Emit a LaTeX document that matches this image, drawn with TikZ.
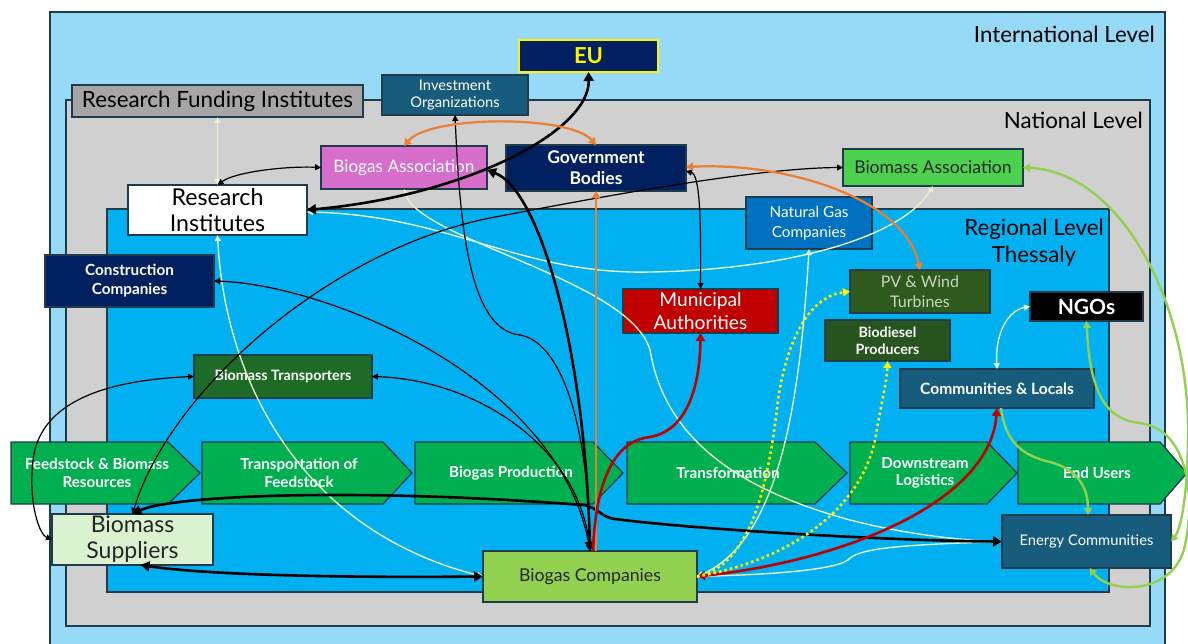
\documentclass[tikz,border=0pt]{standalone}
\usepackage{fontspec}
\setmainfont{Lato}
\usetikzlibrary{arrows.meta,calc}
\definecolor{intlc}{HTML}{97DAF7}
\definecolor{natlc}{HTML}{D0D0D0}
\definecolor{reglc}{HTML}{00B0F0}
\definecolor{edgec}{HTML}{1E3C4C}
\definecolor{navyc}{HTML}{002060}
\definecolor{tealc}{HTML}{175C7D}
\definecolor{bluec}{HTML}{0070C0}
\definecolor{orchidc}{HTML}{D86ECC}
\definecolor{bmac}{HTML}{4CD14F}
\definecolor{redc}{HTML}{C00000}
\definecolor{pvc}{HTML}{2E5A1E}
\definecolor{pvtext}{HTML}{C9D6C0}
\definecolor{bdpc}{HTML}{285420}
\definecolor{btc}{HTML}{1D6B27}
\definecolor{chevc}{HTML}{00B050}
\definecolor{bsc}{HTML}{DAF2D0}
\definecolor{bcc}{HTML}{92D050}
\definecolor{greyc}{HTML}{A6A6A6}
\definecolor{palec}{HTML}{E3F4CF}
\definecolor{orangec}{HTML}{ED7D31}
\definecolor{greenln}{HTML}{92D050}
\newcommand\myfs[2]{\fontsize{#1}{#2}\selectfont}
\begin{document}
\begin{tikzpicture}[x=1pt,y=-1pt,
  box/.style={draw=edgec, line width=1.3pt, inner sep=1pt, outer sep=0pt, align=center, text=white},
  chev/.style={draw=edgec, line width=1.3pt, fill=chevc},
  chevtxt/.style={text=white, font=\bfseries\myfs{15.2}{17.5}, align=center, inner sep=0pt},
  lvl/.style={text=black, font=\myfs{22.3}{27}, inner sep=0pt, align=center},
  ln/.style={line width=1.2pt, draw=black, >={Triangle[width=6pt,length=6pt]}},
  lnthick/.style={line width=2.6pt, draw=black, >={Triangle[width=10pt,length=9pt]}},
  lnpale/.style={line width=1.4pt, draw=palec, >={Triangle[width=6pt,length=6pt]}},
  lnorange/.style={line width=2.2pt, draw=orangec, >={Triangle[width=8pt,length=7pt]}},
  lnred/.style={line width=2.6pt, draw=redc, >={Triangle[width=9pt,length=8pt]}},
  lnyel/.style={line width=2.6pt, draw=yellow, dash pattern=on 2.6pt off 3pt, >={Triangle[width=8pt,length=7pt]}},
  lngreen/.style={line width=2.4pt, draw=greenln, >={Triangle[width=8pt,length=7pt]}}
]
\useasboundingbox (0,0) rectangle (1188,644);
% levels
\filldraw[fill=intlc, draw=edgec, line width=1.3pt] (50,12) rectangle (1165,660);
\filldraw[fill=natlc, draw=edgec, line width=1.3pt] (66,100) rectangle (1150,626);
\filldraw[fill=reglc, draw=edgec, line width=1.3pt] (107,209) rectangle (1109,592);
\node[lvl, anchor=east] (lint) at (1155,34) {International Level};
\node[lvl, anchor=east] (lnat) at (1143,120) {National Level};
\node[lvl] (lreg) at (1034,243) {Regional Level\\Thessaly};
% value chain
\draw[chev] (11,442) -- (168,442) -- (200,473) -- (168,504) -- (11,504) -- cycle;
\node[chevtxt] (c1) at (97,473) {Feedstock \& Biomass\\Resources};
\draw[chev] (202,442) -- (383,442) -- (412,473) -- (383,504) -- (202,504) -- cycle;
\node[chevtxt] (c2) at (299,473) {Transportation of\\Feedstock};
\draw[chev] (415,442) -- (593,442) -- (623,473) -- (593,504) -- (415,504) -- cycle;
\node[chevtxt] (c3) at (511,473) {Biogas Production};
\draw[chev] (627,442) -- (815,442) -- (847,473) -- (815,504) -- (627,504) -- cycle;
\node[chevtxt] (c4) at (728,473) {Transformation};
\draw[chev] (850,442) -- (987,442) -- (1017,473) -- (987,504) -- (850,504) -- cycle;
\node[chevtxt] (c5) at (925,473) {Downstream\\Logistics};
\draw[chev] (1018,442) -- (1160,442) -- (1187,473) -- (1160,504) -- (1018,504) -- cycle;
\node[chevtxt] (c6) at (1097,473) {End Users};
% actors
\node[box, fill=navyc, draw=yellow, line width=1.6pt, minimum width=139pt, minimum height=32pt, text=yellow, font=\bfseries\myfs{22}{26}] (eu) at (588.5,56) {EU};
\node[box, fill=tealc, minimum width=146pt, minimum height=40pt, font=\myfs{14.7}{17.5}] (io) at (455,95) {Investment\\Organizations};
\node[box, fill=greyc, minimum width=291pt, minimum height=32pt, text=black, font=\myfs{22.4}{26}] (rfi) at (217.5,101) {Research Funding Institutes};
\node[box, fill=orchidc, minimum width=166pt, minimum height=43pt, font=\myfs{17.2}{20}] (bga) at (404,167.5) {Biogas Association};
\node[box, fill=navyc, minimum width=180pt, minimum height=46pt, font=\bfseries\myfs{17.5}{21}] (gov) at (596,168) {Government\\Bodies};
\node[box, fill=bmac, minimum width=180pt, minimum height=37pt, text=black!85, font=\myfs{17.6}{20}] (bma) at (933,167.5) {Biomass Association};
\node[box, fill=white, minimum width=179pt, minimum height=50pt, text=black, font=\myfs{23.2}{26}] (ri) at (217.5,210) {Research\\Institutes};
\node[box, fill=bluec, minimum width=126pt, minimum height=52pt, font=\myfs{15.3}{20}] (ngc) at (809,223) {Natural Gas\\Companies};
\node[box, fill=navyc, minimum width=169pt, minimum height=52pt, font=\bfseries\myfs{15.3}{19}] (cc) at (129.5,281) {Construction\\Companies};
\node[box, fill=redc, minimum width=155pt, minimum height=44pt, font=\myfs{19.2}{23}] (ma) at (700.5,311) {Municipal\\Authorities};
\node[box, fill=pvc, minimum width=140pt, minimum height=43pt, text=pvtext, font=\myfs{16}{20}] (pv) at (920,291.5) {PV \& Wind\\Turbines};
\node[box, fill=black, minimum width=113pt, minimum height=29pt, font=\bfseries\myfs{21}{24}] (ngo) at (1086.5,306.5) {NGOs};
\node[box, fill=bdpc, minimum width=125pt, minimum height=41pt, font=\bfseries\myfs{14.2}{17}] (bdp) at (887.5,340.5) {Biodiesel\\Producers};
\node[box, fill=btc, minimum width=178pt, minimum height=43pt, font=\bfseries\myfs{14.3}{17}] (bt) at (283,376.5) {Biomass Transporters};
\node[box, fill=tealc, minimum width=194pt, minimum height=39pt, font=\bfseries\myfs{15.6}{18}] (cl) at (997,388.5) {Communities \& Locals};
\node[box, fill=bsc, minimum width=161pt, minimum height=51pt, text=black!85, font=\myfs{23}{26}] (bs) at (132.5,539.5) {Biomass\\Suppliers};
\node[box, fill=bcc, minimum width=214pt, minimum height=51pt, text=black!85, font=\myfs{17.7}{21}] (bc) at (590,576.5) {Biogas Companies};
\node[box, fill=tealc, minimum width=169pt, minimum height=53pt, font=\myfs{14.7}{19}] (ec) at (1086.5,541.5) {Energy Communities};
% pale links
\draw[lnpale,<->] (rfi.south) -- (ri.north);
\draw[lnpale,<->] (ri.south) .. controls (225,380) and (300,530) .. (bc.west);
\draw[lnpale,<->] (bga.south) .. controls (420,240) and (630,280) .. (650,350) .. controls (665,440) and (740,490) .. (850,520) .. controls (920,538) and (980,541) .. (ec.west);
\draw[lnpale,<->] ([yshift=-2pt]ri.east) .. controls (450,215) and (520,275) .. (650,272) .. controls (780,270) and (900,240) .. (bma.south);
\draw[lnpale,<->] (ngc.south) .. controls (800,400) and (780,540) .. (bc.east);
\draw[lnpale,<->] (bc.east) .. controls (750,575) and (830,572) .. (848,560) .. controls (858,548) and (900,545) .. (ec.west);
\draw[lnpale,<->] (cl.north) .. controls (995,330) and (1010,310) .. (ngo.west);
% black links
\draw[ln,<->] (ri.north) .. controls (235,172) and (285,166) .. (bga.west);
\draw[lnthick,<->] (ri.east) .. controls (470,195) and (590,130) .. (eu.south);
\draw[lnthick,<->] ([yshift=-2.5pt]bga.east) .. controls (540,190) and (585,350) .. (bc.north);
\draw[ln,<->] (io.south) .. controls (460,230) and (470,330) .. (520,335) .. controls (560,342) and (588,420) .. (bc.north);
\draw[ln,<->] (cc.east) .. controls (330,285) and (560,380) .. (bc.north);
\draw[ln,<->] (bt.east) .. controls (480,380) and (580,450) .. (bc.north);
\draw[ln,<->] (bs.north) .. controls (170,390) and (330,250) .. (490,218) .. controls (620,193) and (760,168) .. (bma.west);
\draw[ln,<->] (bt.west) .. controls (110,380) and (40,400) .. (33,460) .. controls (28,505) and (40,535) .. (bs.west);
\draw[lnthick,<->] (bs.north) .. controls (170,496) and (350,487) .. (583,505) .. controls (598,507) and (600,517) .. (615,519) .. controls (700,530) and (900,541) .. (ec.west);
\draw[lnthick,<->] (bc.west) .. controls (320,578) and (200,574) .. ([xshift=8pt]bs.south);
\draw[ln,<->] ([yshift=-3pt]gov.east) .. controls (700,175) and (701,220) .. (ma.north);
% orange links
\draw[lnorange,->] (gov.south |- bc.north) -- (gov.south);
\draw[lnorange,<->] (bga.north) .. controls (430,115) and (570,115) .. (gov.north);
\draw[lnorange,<->] ([yshift=1pt]gov.east) .. controls (790,162) and (905,200) .. (pv.north);
% red links
\draw[lnred,->] ([xshift=3pt]bc.north) .. controls (596,470) and (620,440) .. (650,437) .. controls (690,430) and (700,380) .. (ma.south);
\draw[lnred,<->] (cl.south) .. controls (990,500) and (850,560) .. (bc.east);
% yellow dotted links
\draw[lnyel,->] (bc.east) .. controls (755,565) and (770,470) .. (778,400) .. controls (790,320) and (820,295) .. (pv.west);
\draw[lnyel,->] (bc.east) .. controls (790,560) and (860,510) .. (875,440) .. controls (882,400) and (887,380) .. (bdp.south);
% green links
\draw[lngreen,<->] (bma.east) .. controls (1120,172) and (1188,300) .. (1188,430) .. controls (1188,500) and (1180,530) .. (ec.east);
\draw[lngreen,<->] (ngo.south) .. controls (1090,400) and (1110,420) .. (1140,423) .. controls (1190,430) and (1195,500) .. (1185,545) .. controls (1175,595) and (1110,595) .. ([xshift=3pt]ec.south);
\draw[lngreen,->] ([xshift=4pt]cl.south) .. controls (1005,440) and (1020,455) .. (1050,462) .. controls (1080,470) and (1088,490) .. ([xshift=1.5pt]ec.north);
\end{tikzpicture}
\end{document}
